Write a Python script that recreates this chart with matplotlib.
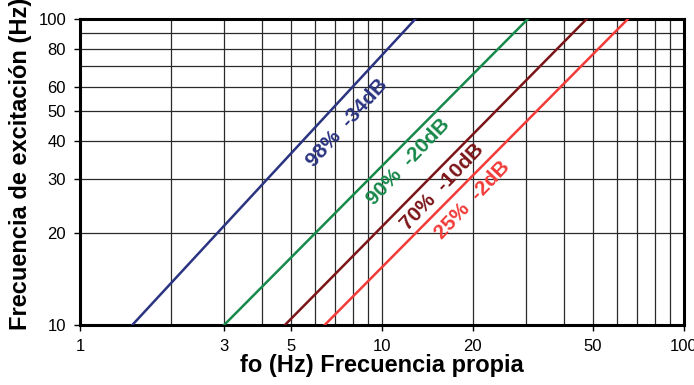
import matplotlib.pyplot as plt
from matplotlib.ticker import FixedLocator, NullFormatter, LogLocator

labels = ["98%  -34dB", "90%  -20dB", "70%  -10dB", "25%  -2dB"]
fo_at_10 = [1.49, 3.0, 4.77, 6.46]
fo_at_100 = [12.9, 30.4, 47.6, 65.2]
excit = [10, 100]
# label centres (data coords)
lab_x = [7.66, 12.2, 15.9, 19.9]
lab_y = [45.9, 34.2, 28.3, 25.7]

xticks = [1, 3, 5, 10, 20, 50, 100]
yticks = [10, 20, 30, 40, 50, 60, 80, 100]

colors = ["#2b3481", "#17894a", "#7b1517", "#f23b38"]
rot = [48, 46.5, 46.5, 46.5]

plt.rcParams["font.family"] = ["Liberation Sans", "DejaVu Sans"]

fig = plt.figure(figsize=(6.94, 3.85), dpi=100)
ax = fig.add_axes([80 / 694, 60 / 385, 604 / 694, 306 / 385])

ax.set_xscale("log")
ax.set_yscale("log")
ax.set_xlim(1, 100)
ax.set_ylim(10, 100)

for i in range(len(labels)):
    ax.plot([fo_at_10[i], fo_at_100[i]], excit, color=colors[i], lw=1.8, zorder=3)
    ax.text(lab_x[i], lab_y[i], labels[i], color=colors[i], rotation=rot[i],
            rotation_mode="anchor", ha="center", va="center",
            fontsize=15, fontweight="bold", zorder=4)

ax.xaxis.set_major_locator(FixedLocator(xticks))
ax.yaxis.set_major_locator(FixedLocator(yticks))
ax.set_xticklabels([str(t) for t in xticks])
ax.set_yticklabels([str(t) for t in yticks])
ax.xaxis.set_minor_locator(LogLocator(base=10, subs=range(1, 10), numticks=20))
ax.yaxis.set_minor_locator(LogLocator(base=10, subs=range(1, 10), numticks=20))
ax.xaxis.set_minor_formatter(NullFormatter())
ax.yaxis.set_minor_formatter(NullFormatter())

ax.grid(True, which="both", color="#2a2a2a", lw=0.9)
ax.tick_params(which="major", direction="out", length=4, width=1, labelsize=12, pad=6)
ax.tick_params(which="minor", length=0)
for s in ax.spines.values():
    s.set_linewidth(2.2)

ax.set_xlabel("fo (Hz) Frecuencia propia", fontsize=17, fontweight="bold", labelpad=0)
ax.set_ylabel("Frecuencia de excitación (Hz)", fontsize=17, fontweight="bold")
ax.yaxis.set_label_coords(-0.08, 0.525)

fig.savefig("out.png", dpi=100)
